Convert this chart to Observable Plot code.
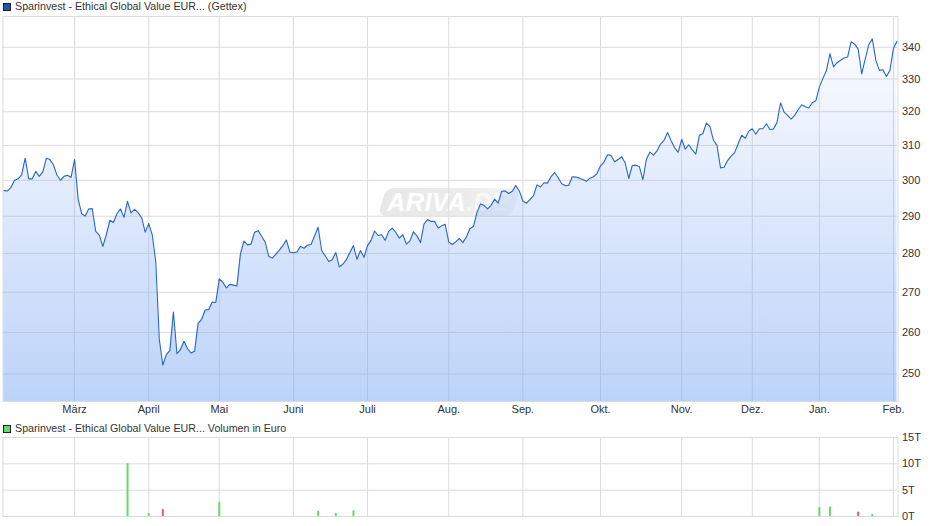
<!DOCTYPE html>
<html lang="de">
<head>
<meta charset="utf-8">
<script src="https://cdn.jsdelivr.net/npm/d3@7"></script>
<script src="https://cdn.jsdelivr.net/npm/@observablehq/plot@0.6"></script>
<style>
  html, body { margin: 0; padding: 0; background: #fff; }
  body { width: 940px; height: 526px; overflow: hidden; position: relative; font-family: "Liberation Sans", Arial, sans-serif; }
  .legend { position: relative; z-index: 2; height: 14px; font-size: 10.7px; line-height: 13px; color: #333; white-space: nowrap; }
  .legend i { position: absolute; left: 3px; top: 3px; width: 6px; height: 6px; border: 1px solid #222; }
  .legend span { position: absolute; left: 15px; top: 0; }
  #chart1 svg, #chart2 svg { display: block; position: relative; z-index: 1; }
  .mark { position: absolute; left: 382px; top: 188px; width: 134px; height: 28px; transform: skewX(-16deg); border-radius: 8px;
          background: linear-gradient(90deg, #e8e8e8, #ececec 62%, #f5f5f5); z-index: 0; }
  .markText { position: absolute; left: 387px; top: 187px; z-index: 0; font: italic bold 25.5px/30px "Liberation Sans", Arial, sans-serif; color: #fff; letter-spacing: .3px; }
  .markText b { color: #f7f7f7; }
</style>
</head>
<body>
<div class="mark"></div>
<div class="markText">ARIVA<b>.DE</b></div>
<div class="legend"><i style="background:#1a56b8"></i><span id="title1"></span></div>
<div id="chart1"></div>
<div class="legend"><i style="background:#66d966"></i><span id="title2"></span></div>
<div id="chart2"></div>
<script>
const priceTitle = "Sparinvest - Ethical Global Value EUR... (Gettex)";
const volumeTitle = "Sparinvest - Ethical Global Value EUR... Volumen in Euro";

const priceValues = [
  297.1,297,298,300,300.4,301.5,306.3,300.4,300.4,302.5,
  301.1,302.4,306.3,305.9,304.4,301.5,300,301.1,301.4,300.8,
  305.9,294.8,290.7,290.1,292,292.1,285.9,284.9,281.9,285,
  288.9,288.3,290.7,292,289.7,294.1,290.9,291.9,291,289.6,
  285.7,288,285,277.8,258.3,252.1,254.6,255.6,265,254.8,
  255.8,257.8,256,255,255.4,262.2,263.2,265.5,265.6,267.5,
  267.4,273.4,272.5,271.1,272,271.8,271.6,
  280,283.3,282.3,282.5,285.7,286.1,284.6,283,279.3,278.8,
  279.8,280.9,282.1,283.6,280.4,280.2,280.4,281.9,281.4,282.2,
  282.4,284.7,287,280.8,279.4,277.9,278.4,280.3,276.5,277.2,
  278.4,280.3,282.1,278.5,280.8,279,282.1,283.5,286,284.8,
  285,283.5,285.9,286.8,285.6,284.1,285,282.5,283.3,285.8,
  284.7,282.9,287.9,289.1,288.6,288.6,286.8,287.4,287.8,283.1,
  282.4,283.1,284,282.9,284.4,286.6,
  287.2,291,293.4,293,292,293,294.7,293.6,296.9,297,
  296.3,296.9,298.5,297,294.2,293.6,294.6,295.6,298.7,298.1,
  299.3,299.2,301,302.2,300.7,299,298.5,298.6,301,300.9,
  300.6,300.2,299.7,300.6,301,301.9,304.1,305.2,307.3,307.1,
  305.3,305.9,306.7,304.9,300.5,304.2,304.3,303.9,300.2,306,
  308.1,307.2,308.4,310.4,311.5,313.8,311.4,309.3,308,311.8,
  308.9,310.2,308.7,307.5,312.9,313.5,
  316.6,315.6,311.5,310,303.5,303.7,305.6,306.9,307.9,310.5,
  313,312.1,314.2,314.9,313.3,314.9,314.9,316.4,314.7,314.8,
  316.8,
  322.7,319.9,318.9,317.8,318.9,320.6,322.1,321.5,321.1,
  322.7,323.3,327.5,330.2,332.6,338,333.8,335.1,335.9,336.6,
  336.9,341.8,341,339.4,331.6,336.3,340.8,342.7,335.9,332.7,
  332.9,330.8,332.7,339.7,341.9
];
const priceTicks = [250,260,270,280,290,300,310,320,330,340];
const priceFloor = 243.6;
const monthLabels = ["März","April","Mai","Juni","Juli","Aug.","Sep.","Okt.","Nov.","Dez.","Jan.","Feb."];
const monthIndex  = [20,41,61,82,103,126,147,169,192,212,231,252];

const volumeUpIndex = [35,41,61,89,94,99,231,234,246];
const volumeUpValue = [10,0.55,2.7,1,0.6,1.1,1.7,1.8,0.4];
const volumeDownIndex = [45,242];
const volumeDownValue = [1.3,0.8];
const volumeTicks = [0,5,10,15];

document.getElementById("title1").textContent = priceTitle;
document.getElementById("title2").textContent = volumeTitle;

const prices = priceValues.map((v, i) => ({i, v}));
const xDomain = [-0.28, priceValues.length - 1 + 0.28];
const gridColor = "#dcdcdc";
const tickLabel = new Map(monthIndex.map((m, k) => [m, monthLabels[k]]));
const font = {fontFamily: '"Liberation Sans", Arial, sans-serif', fontSize: "11px", background: "transparent", color: "#333", overflow: "visible"};

const gradient = () => {
  const defs = d3.create("svg:defs");
  const g = defs.append("linearGradient").attr("id", "priceFill")
    .attr("x1", 0).attr("y1", 0).attr("x2", 0).attr("y2", 1);
  g.append("stop").attr("offset", "0%").attr("stop-color", "rgb(121,167,243)").attr("stop-opacity", 0.03);
  g.append("stop").attr("offset", "100%").attr("stop-color", "rgb(121,167,243)").attr("stop-opacity", 0.5);
  return defs.node();
};

const chart1 = Plot.plot({
  width: 940, height: 408,
  marginTop: 2, marginBottom: 21, marginLeft: 2.5, marginRight: 42.5,
  style: font,
  x: {type: "linear", domain: xDomain},
  y: {type: "log", domain: [priceFloor, 350]},
  marks: [
    gradient,
    Plot.gridY(priceTicks, {stroke: gridColor, strokeOpacity: 1}),
    Plot.gridX(monthIndex, {stroke: gridColor, strokeOpacity: 1}),
    Plot.frame({stroke: gridColor}),
    Plot.areaY(prices, {x: "i", y1: priceFloor, y2: "v", fill: "url(#priceFill)"}),
    Plot.lineY(prices, {x: "i", y: "v", stroke: "#2a66c6", strokeWidth: 1.1, curve: "linear"}),
    Plot.axisY(priceTicks, {anchor: "right", tickSize: 0, tickPadding: 4, label: null, tickFormat: d => String(d), fill: "#333"}),
    Plot.axisX(monthIndex, {anchor: "bottom", tickSize: 0, tickPadding: 4, label: null, tickFormat: d => tickLabel.get(d), fill: "#333"})
  ]
});
document.getElementById("chart1").append(chart1);

const chart2 = Plot.plot({
  width: 940, height: 90,
  marginTop: 1, marginBottom: 10, marginLeft: 2.5, marginRight: 42.5,
  style: font,
  x: {type: "linear", domain: xDomain, axis: null},
  y: {domain: [0, 15]},
  marks: [
    Plot.gridY(volumeTicks, {stroke: gridColor, strokeOpacity: 1}),
    Plot.gridX(monthIndex, {stroke: gridColor, strokeOpacity: 1}),
    Plot.frame({stroke: gridColor}),
    Plot.ruleX(volumeUpIndex, {x: d => d, y1: 0, y2: (d, k) => volumeUpValue[k], stroke: "#66d966", strokeWidth: 2}),
    Plot.ruleX(volumeDownIndex, {x: d => d, y1: 0, y2: (d, k) => volumeDownValue[k], stroke: "#d96060", strokeWidth: 2}),
    Plot.axisY(volumeTicks, {anchor: "right", tickSize: 0, tickPadding: 4, label: null, tickFormat: d => d + "T", fill: "#333"})
  ]
});
document.getElementById("chart2").append(chart2);
</script>
</body>
</html>
